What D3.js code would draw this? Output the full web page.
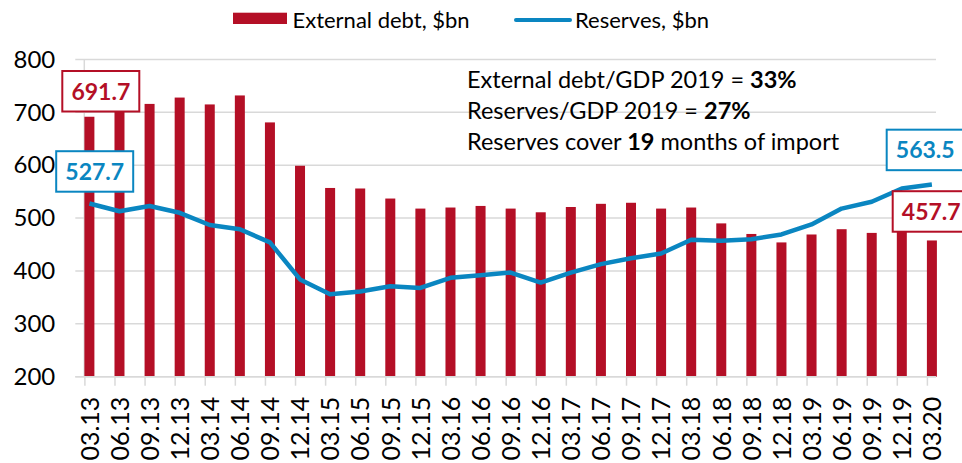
<!DOCTYPE html>
<html>
<head>
<meta charset="utf-8">
<script src="https://cdn.jsdelivr.net/npm/d3@7"></script>
<style>
  body { margin: 0; background: #fff; }
  svg { display: block; font-family: Lato, "Open Sans", sans-serif; }
  .tick text { fill: #000; }
</style>
</head>
<body>
<script>
// quarters, end of period
var quarters = ["03.13", "06.13", "09.13", "12.13", "03.14", "06.14", "09.14", "12.14",
  "03.15", "06.15", "09.15", "12.15", "03.16", "06.16", "09.16", "12.16",
  "03.17", "06.17", "09.17", "12.17", "03.18", "06.18", "09.18", "12.18",
  "03.19", "06.19", "09.19", "12.19", "03.20"];

// external debt, $bn (bars)
var externalDebt = [691.7, 715, 716, 728, 715, 732, 681, 599,
  557, 556, 537, 518, 520, 523, 518, 511,
  521, 527, 529, 518, 520, 490, 470, 454,
  469, 479, 472, 477, 457.7];

// reserves, $bn (line)
var reserves = [527.7, 513, 523, 510, 487, 479, 454, 384,
  356, 361, 371, 368, 387, 392, 397, 378,
  397, 413, 424, 433, 459, 457, 460, 469,
  488, 518, 531, 556, 563.5];

var yTicks = [200, 300, 400, 500, 600, 700, 800];

var notes = [
  [["External debt/GDP 2019 = ", false], ["33%", true]],
  [["Reserves/GDP 2019 = ", false], ["27%", true]],
  [["Reserves cover ", false], ["19", true], [" months of import", false]]
];

var red = "#B40F26",
    blue = "#0A86C1",
    grid = "#D9D9D9";

var width = 962, height = 463;
var plotLeft = 84.3, plotRight = 936, plotTop = 59.5, plotBottom = 376.7;

var svg = d3.select("body").append("svg")
    .attr("width", width)
    .attr("height", height);

var x = d3.scalePoint()
    .domain(quarters)
    .range([89.4, 931.9]);

var y = d3.scaleLinear()
    .domain([200, 800])
    .range([plotBottom, plotTop]);

// gridlines (stick out to the left like Excel's ticks)
svg.append("g")
  .selectAll("line")
  .data(yTicks)
  .enter()
  .append("line")
    .attr("x1", plotLeft - 9)
    .attr("x2", plotRight)
    .attr("y1", function(d) { return y(d); })
    .attr("y2", function(d) { return y(d); })
    .attr("stroke", grid)
    .attr("stroke-width", 1.5);

// y axis line
svg.append("line")
    .attr("x1", plotLeft).attr("x2", plotLeft)
    .attr("y1", plotTop).attr("y2", plotBottom)
    .attr("stroke", grid)
    .attr("stroke-width", 1.5);

// y labels
var yAxis = svg.append("g")
    .attr("transform", "translate(" + plotLeft + ",0)")
    .call(d3.axisLeft(y).tickValues(yTicks).tickSize(0).tickPadding(29));
yAxis.select(".domain").remove();
yAxis.selectAll("text")
    .attr("font-size", 24)
    .attr("font-family", "Lato, sans-serif");

// bars
var barWidth = 10;
svg.append("g")
  .selectAll("rect")
  .data(externalDebt)
  .enter()
  .append("rect")
    .attr("x", function(d, i) { return x(quarters[i]) - barWidth / 2; })
    .attr("y", function(d) { return y(d); })
    .attr("width", barWidth)
    .attr("height", function(d) { return y(200) - y(d); })
    .attr("fill", red);

// x axis
var xAxis = svg.append("g")
    .attr("transform", "translate(0," + plotBottom + ")")
    .call(d3.axisBottom(x).tickSize(0).tickPadding(0));
xAxis.select(".domain").remove();
xAxis.append("line")
    .attr("x1", plotLeft - 9).attr("x2", plotRight)
    .attr("stroke", grid)
    .attr("stroke-width", 1.5);
xAxis.selectAll(".tick").append("line")
    .attr("x1", -5).attr("x2", -5)
    .attr("y1", 0).attr("y2", 9)
    .attr("stroke", grid)
    .attr("stroke-width", 1.5);
xAxis.selectAll(".tick text")
    .attr("font-size", 25)
    .attr("font-family", "Lato, sans-serif")
    .attr("text-anchor", "end")
    .attr("dy", "0.35em")
    .attr("transform", "translate(0,20) rotate(-90)")
    .attr("x", 0)
    .attr("y", 0);

// reserves line
var line = d3.line()
    .x(function(d, i) { return x(quarters[i]); })
    .y(function(d) { return y(d); });

svg.append("path")
    .datum(reserves)
    .attr("d", line)
    .attr("fill", "none")
    .attr("stroke", blue)
    .attr("stroke-width", 4.5)
    .attr("stroke-linejoin", "round");

// boxed labels for first / last values
function boxLabel(value, cx, cy, color) {
  var w = 77, h = 40.5;
  var g = svg.append("g").attr("transform", "translate(" + cx + "," + cy + ")");
  g.append("rect")
      .attr("x", -w / 2).attr("y", -h / 2)
      .attr("width", w).attr("height", h)
      .attr("fill", "#fff")
      .attr("stroke", color)
      .attr("stroke-width", 2);
  g.append("text")
      .attr("text-anchor", "middle")
      .attr("dy", "0.36em")
      .attr("font-size", 23)
      .attr("font-weight", "bold")
      .attr("fill", color)
      .text(d3.format(".1f")(value));
}

var n = quarters.length - 1;
boxLabel(externalDebt[0], x(quarters[0]) + 11.4, y(externalDebt[0]) - 25.5, red);
boxLabel(reserves[0], x(quarters[0]) + 5.3, y(reserves[0]) - 32, blue);
boxLabel(reserves[n], x(quarters[n]) - 6.7, y(reserves[n]) - 34.6, blue);
boxLabel(externalDebt[n], x(quarters[n]) - 0.7, y(externalDebt[n]) - 29, red);

// notes
var noteText = svg.append("g").attr("font-size", 23.5).attr("fill", "#000");
notes.forEach(function(parts, i) {
  var t = noteText.append("text")
      .attr("x", 467)
      .attr("y", 87.5 + i * 31);
  parts.forEach(function(p) {
    t.append("tspan")
        .attr("font-weight", p[1] ? "bold" : "normal")
        .text(p[0]);
  });
});

// legend
var legend = svg.append("g").attr("font-size", 22);
legend.append("rect")
    .attr("x", 233).attr("y", 12.7)
    .attr("width", 54).attr("height", 11.3)
    .attr("fill", red);
legend.append("text")
    .attr("x", 292.5).attr("y", 28)
    .text("External debt, $bn");
legend.append("line")
    .attr("x1", 516).attr("x2", 570)
    .attr("y1", 20).attr("y2", 20)
    .attr("stroke", blue)
    .attr("stroke-width", 4)
    .attr("stroke-linecap", "round");
legend.append("text")
    .attr("x", 575).attr("y", 28)
    .text("Reserves, $bn");
</script>
</body>
</html>
